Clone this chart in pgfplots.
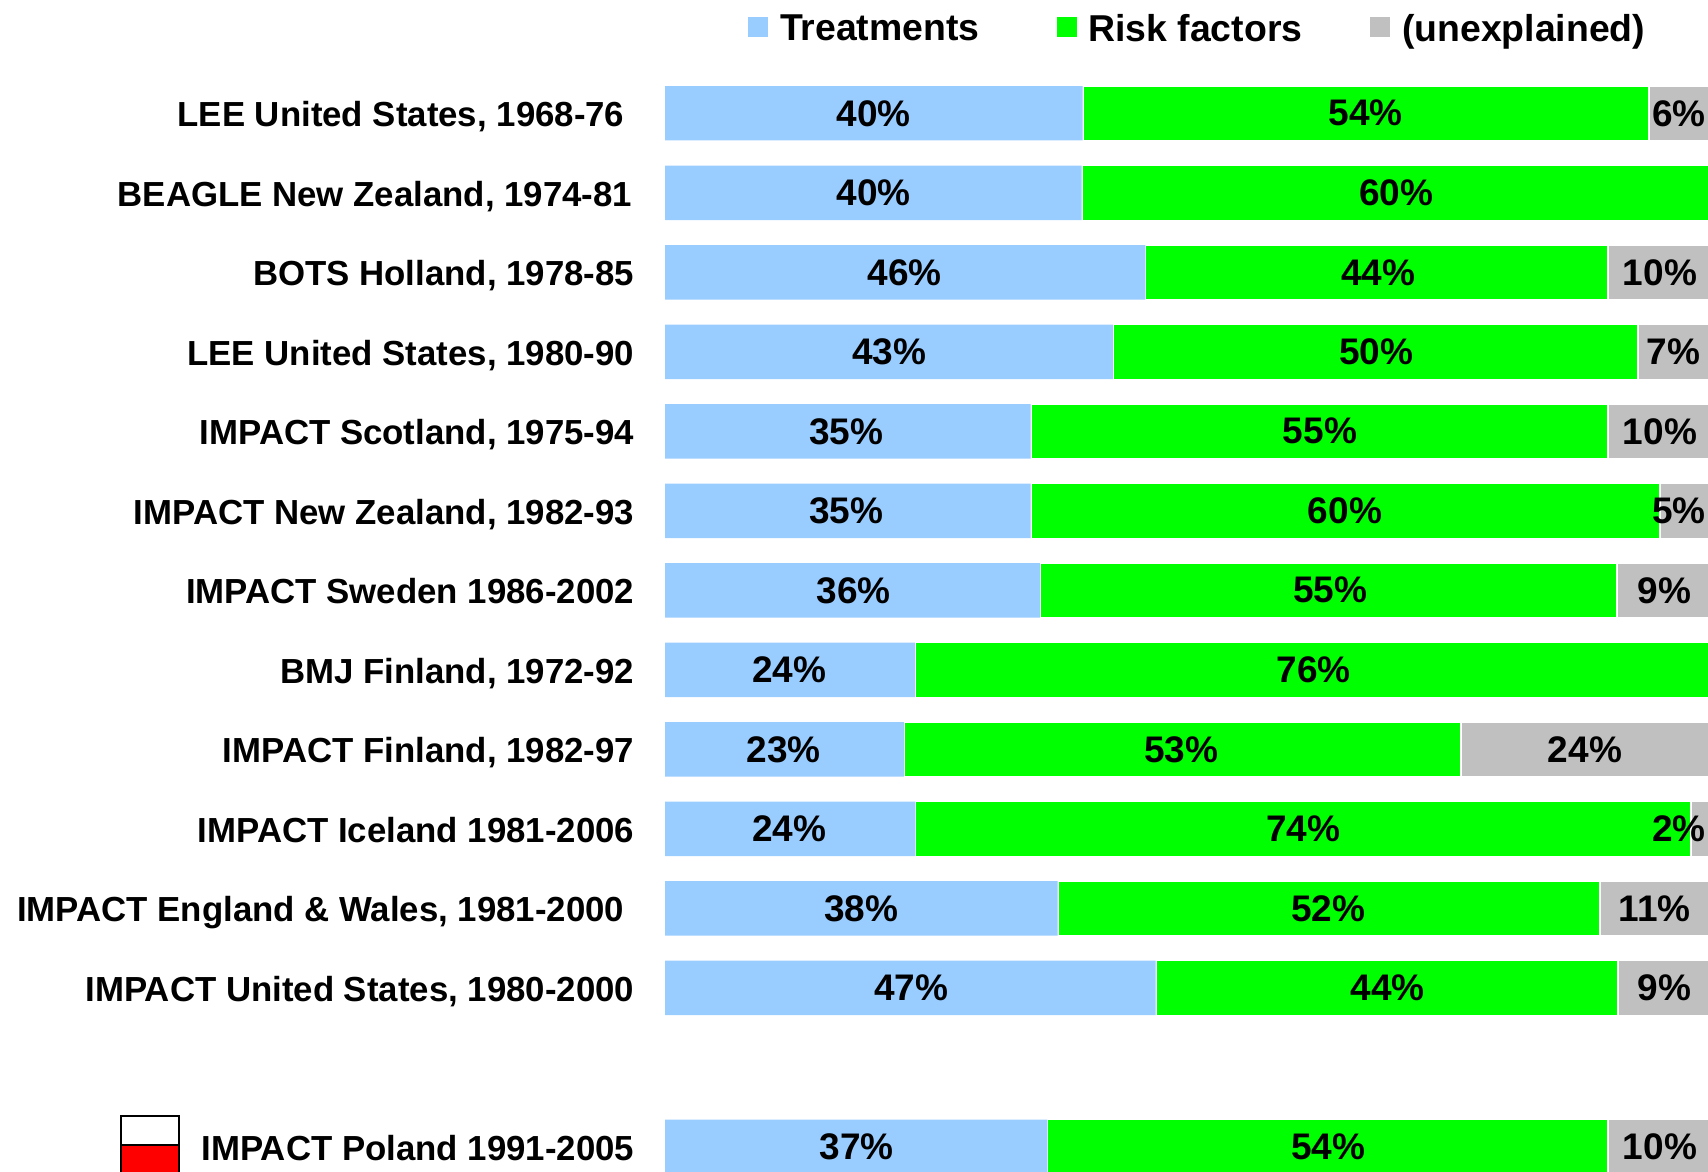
\documentclass[border=0pt]{standalone}
\usepackage{fontspec}
\setmainfont{Liberation Sans}
\usepackage{pgfplots}
\pgfplotsset{compat=1.18}
\definecolor{treat}{HTML}{99CCFF}
\definecolor{risk}{HTML}{00FF00}
\definecolor{unex}{HTML}{C0C0C0}
\pgfplotsset{
  base/.style={
    at={(332.5pt,0pt)}, anchor=south west,
    scale only axis, width=521.5pt, height=569.1pt,
    xmin=0, xmax=100, ymin=-1, ymax=13.317, y dir=reverse,
    axis line style={draw=none}, major tick length=0pt,
    xtick=\empty,
  }
}
\begin{document}
\begin{tikzpicture}[x=1pt,y=1pt]
\useasboundingbox (0,0) rectangle (854,586);
\begin{axis}[base,
  xbar stacked, bar width=27.7pt,
  ytick={0,1,2,3,4,5,6,7,8,9,10,11,13},
  yticklabels={
    {LEE United States, 1968-76\rule{4.9pt}{0pt}},
    {BEAGLE New Zealand, 1974-81\rule{1pt}{0pt}},
    {BOTS Holland, 1978-85},
    {LEE United States, 1980-90},
    {IMPACT Scotland, 1975-94},
    {IMPACT New Zealand, 1982-93},
    {IMPACT Sweden 1986-2002},
    {BMJ Finland, 1972-92},
    {IMPACT Finland, 1982-97},
    {IMPACT Iceland 1981-2006},
    {IMPACT England \& Wales, 1981-2000\rule{4.9pt}{0pt}},
    {IMPACT United States, 1980-2000},
    {IMPACT Poland 1991-2005}},
  y tick label style={anchor=base east, inner sep=0pt, xshift=-15.2pt, yshift=-6.8pt,
    font=\fontsize{17.4}{20}\selectfont\bfseries},
  legend columns=3,
  legend style={draw=none, fill=none, inner sep=0pt, anchor=west,
    at={(0.0796,1.0040)},
    nodes={inner sep=0pt, anchor=west, font=\fontsize{18.7}{20}\selectfont\bfseries},
    /tikz/column 1/.style={column sep=5.8pt},
    /tikz/column 2/.style={column sep=38.6pt},
    /tikz/column 3/.style={column sep=5.8pt},
    /tikz/column 4/.style={column sep=34pt},
    /tikz/column 5/.style={column sep=5.8pt}},
  legend image code/.code={\path[#1,draw=none] (0pt,-4pt) rectangle (10pt,6pt);},
]
\addplot[fill=treat, draw=none, bar width=27.2pt] coordinates {
 (40.03,0) (39.95,1) (46.05,2) (42.95,3) (35.05,4) (35.05,5) (35.95,6) (23.95,7) (22.9,8) (24.0,9) (37.65,10) (47.05,11) (36.65,13)};
\addplot[fill=risk, draw=white, line width=1pt] coordinates {
 (54.27,0) (60.15,1) (44.35,2) (50.35,3) (55.35,4) (60.35,5) (55.35,6) (76.15,7) (53.4,8) (74.4,9) (51.95,10) (44.35,11) (53.75,13)};
\addplot[fill=unex, draw=white, line width=1pt] coordinates {
 (5.95,0) (0,1) (9.8,2) (6.9,3) (9.8,4) (4.8,5) (8.9,6) (0,7) (23.9,8) (1.8,9) (10.6,10) (8.9,11) (9.8,13)};
\legend{Treatments,Risk factors,(unexplained)}
\end{axis}
\begin{axis}[base, ytick=\empty, clip=false]
\addplot[draw=none, mark=none, point meta=explicit symbolic,
  nodes near coords, nodes near coords align={center},
  every node near coord/.append style={anchor=center, inner sep=0pt, text=black, xshift=0.5pt,
    font=\fontsize{18.5}{20}\selectfont\bfseries}]
 coordinates {
 (19.9,0)[40\%] (67.1,0)[54\%] (97.1,0)[6\%]
 (19.9,1)[40\%] (70.0,1)[60\%]
 (22.9,2)[46\%] (68.3,2)[44\%] (95.3,2)[10\%]
 (21.4,3)[43\%] (68.1,3)[50\%] (96.6,3)[7\%]
 (17.3,4)[35\%] (62.7,4)[55\%] (95.3,4)[10\%]
 (17.3,5)[35\%] (65.1,5)[60\%] (97.1,5)[5\%]
 (18.0,6)[36\%] (63.7,6)[55\%] (95.7,6)[9\%]
 (11.8,7)[24\%] (62.1,7)[76\%]
 (11.3,8)[23\%] (49.4,8)[53\%] (88.1,8)[24\%]
 (11.8,9)[24\%] (61.1,9)[74\%] (97.1,9)[2\%]
 (18.7,10)[38\%] (63.5,10)[52\%] (94.8,10)[11\%]
 (23.5,11)[47\%] (69.2,11)[44\%] (95.7,11)[9\%]
 (18.3,13)[37\%] (63.5,13)[54\%] (95.3,13)[10\%]
 };
\end{axis}
% Polish flag beside the last row
\begin{scope}
\clip (0,0) rectangle (854,586);
\fill[white] (60.5,13.5) rectangle (89.5,28);
\fill[red] (60.5,-2) rectangle (89.5,13.5);
\draw[black, line width=1pt] (60.5,-2) rectangle (89.5,28);
\draw[black, line width=1pt] (60.5,13.5) -- (89.5,13.5);
\end{scope}
\end{tikzpicture}
\end{document}
